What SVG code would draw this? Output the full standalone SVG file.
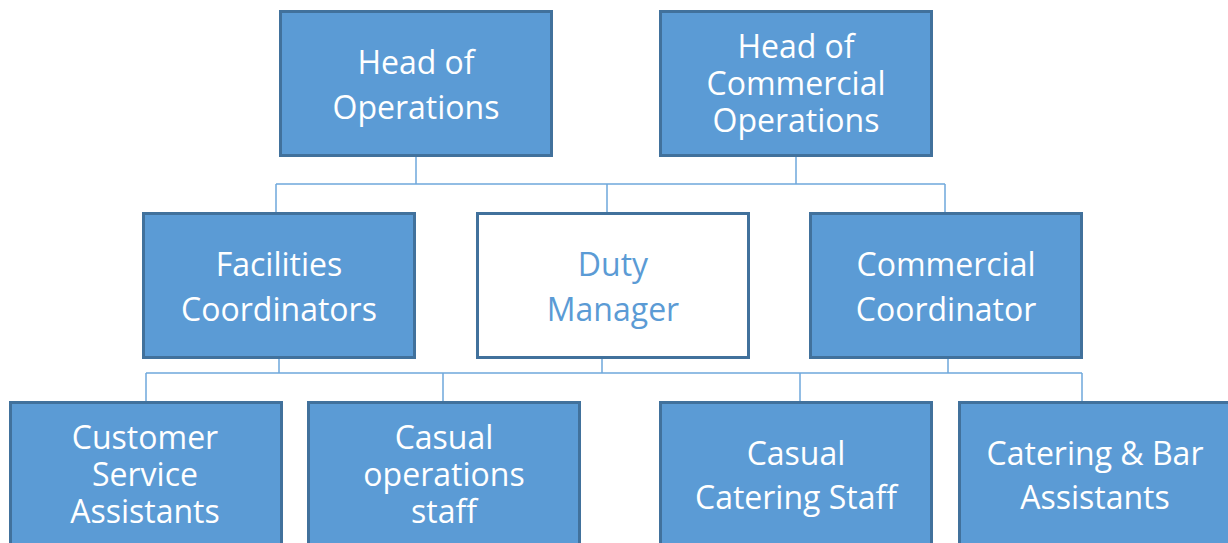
<svg xmlns="http://www.w3.org/2000/svg" width="1228" height="543" viewBox="0 0 1228 543">
  <style>
    .box { fill: #5B9BD5; stroke: #41719C; stroke-width: 3; }
    .box-alt { fill: #FFFFFF; stroke: #41719C; stroke-width: 3; }
    .lbl { font-family: "Open Sans", Lato, sans-serif; font-size: 32px; fill: #FFFFFF; text-anchor: middle; }
    .lbl-alt { fill: #5B9BD5; }
    .conn { stroke: #6FA8DC; stroke-width: 1.5; fill: none; }
  </style>
  <rect width="1228" height="543" fill="#FFFFFF"/>

  <!-- connectors -->
  <g id="connectors" class="conn">
    <path d="M416 156 V184 M796 156 V184 M276 184 H945 M276 184 V212 M607 184 V212 M945 184 V212"/>
    <path d="M279 358 V373 M602 358 V373 M948 358 V373 M146 373 H1082 M146 373 V401 M443 373 V401 M800 373 V401 M1082 373 V401"/>
  </g>

  <!-- top row -->
  <g id="head-operations">
    <rect class="box" x="280.5" y="11.5" width="271" height="144"/>
    <text class="lbl" x="416" y="74">Head of</text>
    <text class="lbl" x="416" y="119">Operations</text>
  </g>
  <g id="head-commercial">
    <rect class="box" x="660.5" y="11.5" width="271" height="144"/>
    <text class="lbl" x="796" y="58">Head of</text>
    <text class="lbl" x="796" y="95">Commercial</text>
    <text class="lbl" x="796" y="132">Operations</text>
  </g>

  <!-- middle row -->
  <g id="facilities-coordinators">
    <rect class="box" x="143.5" y="213.5" width="271" height="144"/>
    <text class="lbl" x="279" y="276">Facilities</text>
    <text class="lbl" x="279" y="321">Coordinators</text>
  </g>
  <g id="duty-manager">
    <rect class="box-alt" x="477.5" y="213.5" width="271" height="144"/>
    <text class="lbl lbl-alt" x="613" y="276">Duty</text>
    <text class="lbl lbl-alt" x="613" y="321">Manager</text>
  </g>
  <g id="commercial-coordinator">
    <rect class="box" x="810.5" y="213.5" width="271" height="144"/>
    <text class="lbl" x="946" y="276">Commercial</text>
    <text class="lbl" x="946" y="321">Coordinator</text>
  </g>

  <!-- bottom row -->
  <g id="customer-service">
    <rect class="box" x="10.5" y="402.5" width="271" height="150"/>
    <text class="lbl" x="145" y="449">Customer</text>
    <text class="lbl" x="145" y="486">Service</text>
    <text class="lbl" x="145" y="523">Assistants</text>
  </g>
  <g id="casual-operations">
    <rect class="box" x="308.5" y="402.5" width="271" height="150"/>
    <text class="lbl" x="444" y="449">Casual</text>
    <text class="lbl" x="444" y="486">operations</text>
    <text class="lbl" x="444" y="523">staff</text>
  </g>
  <g id="casual-catering">
    <rect class="box" x="660.5" y="402.5" width="271" height="150"/>
    <text class="lbl" x="796" y="465">Casual</text>
    <text class="lbl" x="796" y="509">Catering Staff</text>
  </g>
  <g id="catering-bar">
    <rect class="box" x="959.5" y="402.5" width="280" height="150"/>
    <text class="lbl" x="1095" y="465">Catering &amp; Bar</text>
    <text class="lbl" x="1095" y="509">Assistants</text>
  </g>
</svg>
